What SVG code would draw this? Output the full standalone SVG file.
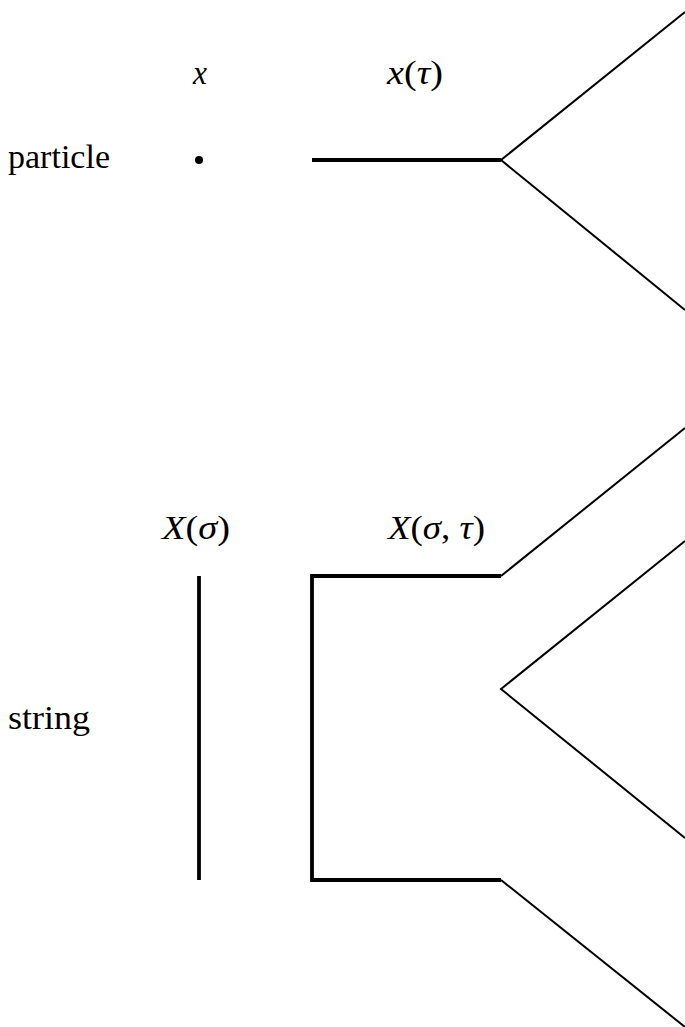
<svg xmlns="http://www.w3.org/2000/svg" width="685" height="1027" viewBox="0 0 685 1027">
<style>
text{font-family:"Liberation Serif","DejaVu Serif",serif;font-size:33px;fill:#000}
.m{font-style:italic}
.thick{stroke:#000;stroke-width:3.8;fill:none}
.thin{stroke:#000;stroke-width:2;fill:none}
</style>
<rect width="685" height="1027" fill="#fff"/>
<g id="labels">
<text x="8" y="168" textLength="102" lengthAdjust="spacingAndGlyphs">particle</text>
<text x="8" y="729" textLength="82" lengthAdjust="spacingAndGlyphs">string</text>
<text x="193" y="84" class="m" textLength="14" lengthAdjust="spacingAndGlyphs">x</text>
<text x="387" y="84" textLength="56" lengthAdjust="spacingAndGlyphs"><tspan class="m">x</tspan>(<tspan class="m">τ</tspan>)</text>
<text x="162" y="539" textLength="68" lengthAdjust="spacingAndGlyphs"><tspan class="m">X</tspan>(<tspan class="m">σ</tspan>)</text>
<text x="388" y="539" textLength="97" lengthAdjust="spacingAndGlyphs"><tspan class="m">X</tspan>(<tspan class="m">σ</tspan>, <tspan class="m">τ</tspan>)</text>
</g>
<g id="particle-point"><circle cx="199" cy="160" r="4" fill="#000"/></g>
<g id="particle-worldline"><line class="thick" x1="312" y1="160" x2="501" y2="160"/></g>
<g id="string-segment"><line class="thick" x1="199" y1="576" x2="199" y2="880"/></g>
<g id="string-worldsheet"><polyline class="thick" points="501,576 312,576 312,880 501,880"/></g>
<g id="connectors">
<polyline class="thin" points="685,12 501,160 685,310"/>
<line class="thin" x1="501" y1="576" x2="685" y2="428"/>
<polyline class="thin" points="685,541 501,689 685,838"/>
<line class="thin" x1="501" y1="880" x2="685" y2="1027"/>
</g>
</svg>
